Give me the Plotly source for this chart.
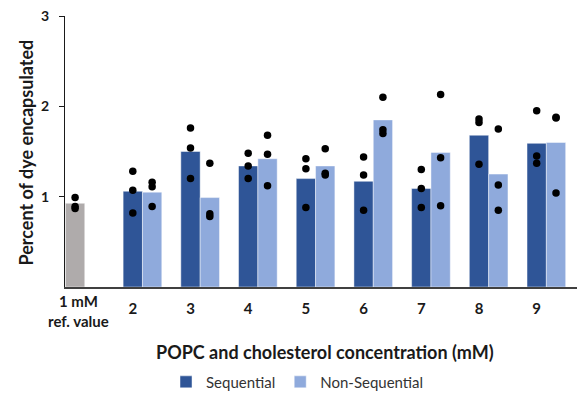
import plotly.graph_objects as go

categories = ["1 mM<br>ref. value", "2", "3", "4", "5", "6", "7", "8", "9"]
ref_value = 0.927
ref_points = [0.99, 0.89, 0.87]
seq_values = [1.06, 1.50, 1.34, 1.20, 1.17, 1.09, 1.68, 1.59]
nonseq_values = [1.05, 0.99, 1.42, 1.34, 1.85, 1.49, 1.25, 1.60]
seq_points = [
    [1.28, 1.07, 0.82], [1.76, 1.54, 1.20], [1.48, 1.34, 1.20], [1.42, 1.31, 0.88],
    [1.44, 1.24, 0.85], [1.30, 1.09, 0.88], [1.86, 1.82, 1.36], [1.95, 1.45, 1.37],
]
nonseq_points = [
    [1.16, 1.11, 0.89], [1.37, 0.81, 0.78], [1.68, 1.47, 1.12], [1.53, 1.26, 1.24],
    [2.10, 1.74, 1.70], [2.13, 1.43, 0.90], [1.75, 1.13, 0.85], [1.88, 1.87, 1.04],
]

DARK = "#2F5597"
LIGHT = "#8FAADC"
GRAY = "#AFABAB"
BW = 0.335
FONT = "Lato"
TXT = "#1a1a1a"

pos = list(range(len(categories)))
grp_pos = pos[1:]

fig = go.Figure()
edge = dict(width=1, color="rgba(255,255,255,0.45)")
fig.add_trace(go.Bar(x=[pos[0]], y=[ref_value], width=BW, offset=-BW / 2,
                     marker=dict(color=GRAY, line=edge), showlegend=False))
fig.add_trace(go.Bar(x=grp_pos, y=seq_values, width=BW, offset=-BW / 2, name="Sequential",
                     marker=dict(color=DARK, line=edge)))
fig.add_trace(go.Bar(x=grp_pos, y=nonseq_values, width=BW, offset=BW / 2, name="Non-Sequential",
                     marker=dict(color=LIGHT, line=edge)))

px, py = [], []
for v in ref_points:
    px.append(pos[0]); py.append(v)
for p, pts in zip(grp_pos, seq_points):
    for v in pts:
        px.append(p); py.append(v)
for p, pts in zip(grp_pos, nonseq_points):
    for v in pts:
        px.append(p + BW); py.append(v)
fig.add_trace(go.Scatter(x=px, y=py, mode="markers", showlegend=False,
                         marker=dict(color="black", size=7.5)))

# the two-line reference label is placed as a data-anchored annotation so the
# single-line numbers can sit centred against it, as in the original
tick_text = [""] + categories[1:]

# page body has an 8px margin, so the figure is sized/offset to compensate
fig.update_layout(
    width=577, height=385,
    margin=dict(l=57, r=1, t=8, b=106, autoexpand=False),
    plot_bgcolor="white", paper_bgcolor="white",
    barmode="overlay",
    font=dict(family=FONT, color=TXT),
    showlegend=True,
    legend=dict(orientation="h", x=0.448, xanchor="center", y=-0.351, yanchor="middle",
                font=dict(size=15, color="#333333"), itemwidth=30, traceorder="normal"),
    xaxis=dict(range=[-0.175, 8.82], tickmode="array", tickvals=pos, ticktext=tick_text,
               automargin=False, ticklabelstandoff=7,
               showline=True, linecolor="#404040", linewidth=1.5, ticks="",
               showgrid=False, zeroline=False,
               tickfont=dict(size=15, family=FONT, weight="bold", color=TXT)),
    yaxis=dict(range=[0, 3], tickvals=[1, 2, 3], ticktext=["1", "2", "3"],
               automargin=False, ticklabeloverflow="allow", ticklabelstandoff=7,
               showline=True, linecolor=TXT, linewidth=1.2,
               ticks="outside", ticklen=5, tickcolor=TXT,
               showgrid=False, zeroline=False,
               tickfont=dict(size=14, family=FONT, weight="bold", color=TXT)),
    annotations=[
        dict(text=categories[0], xref="x", yref="paper", x=pos[0], y=0,
             xanchor="center", yanchor="middle", xshift=3, yshift=-24, showarrow=False,
             font=dict(size=15, family=FONT, weight="bold", color=TXT)),
        dict(text="Percent of dye encapsulated", xref="paper", yref="paper", x=0, y=0.5,
             xanchor="center", yanchor="middle", xshift=-40, yshift=-1, textangle=-90,
             showarrow=False,
             font=dict(size=18, family=FONT, weight="bold", color=TXT)),
        dict(text="POPC and cholesterol concentration (mM)", xref="paper", yref="paper",
             x=0.5, y=0, xanchor="center", yanchor="middle", yshift=-65, showarrow=False,
             font=dict(size=18, family=FONT, weight="bold", color=TXT)),
    ],
)

fig.write_html("out.html")
